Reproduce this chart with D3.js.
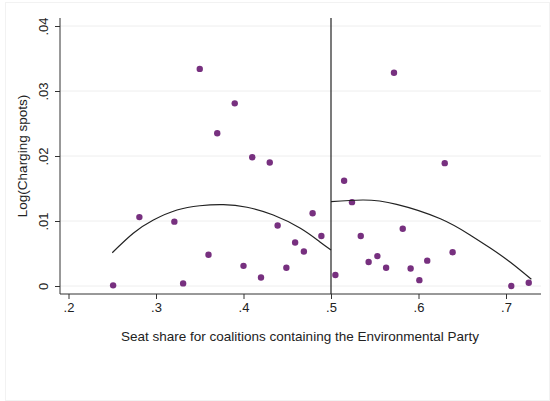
<!DOCTYPE html>
<html>
<head>
<meta charset="utf-8">
<script src="https://cdn.jsdelivr.net/npm/d3@7"></script>
<style>
	body { margin: 0; background: #fff; }
	text { font-family: "Liberation Sans", Arial, sans-serif; fill: #222; }
</style>
</head>
<body>
<script>
// scatter: seat share vs log(charging spots)
let seatShare = [0.251, 0.281, 0.321, 0.331, 0.350, 0.360, 0.370, 0.390, 0.400, 0.410, 0.420, 0.430,
	0.439, 0.449, 0.459, 0.469, 0.479, 0.489, 0.505, 0.515, 0.524, 0.534, 0.543, 0.553, 0.563, 0.572,
	0.582, 0.591, 0.601, 0.610, 0.630, 0.639, 0.706, 0.726]
let charging = [0.0001, 0.0106, 0.0099, 0.0004, 0.0334, 0.0048, 0.0235, 0.0281, 0.0031, 0.0198, 0.0013, 0.0190,
	0.0093, 0.0028, 0.0067, 0.0053, 0.0112, 0.0077, 0.0017, 0.0162, 0.0129, 0.0077, 0.0037, 0.0046, 0.0028, 0.0328,
	0.0088, 0.0027, 0.0009, 0.0039, 0.0189, 0.0052, 0.0000, 0.0005]

// fitted curves
let leftFitX = [0.250, 0.274, 0.297, 0.324, 0.350, 0.377, 0.404, 0.434, 0.465, 0.487, 0.500]
let leftFitY = [0.00512, 0.00811, 0.01015, 0.01169, 0.01235, 0.01251, 0.01211, 0.01092, 0.00888, 0.00682, 0.00554]
let rightFitX = [0.500, 0.537, 0.575, 0.625, 0.659, 0.682, 0.705, 0.729]
let rightFitY = [0.01297, 0.01323, 0.01257, 0.01035, 0.00785, 0.00585, 0.00365, 0.00103]

let xTicks = [0.2, 0.3, 0.4, 0.5, 0.6, 0.7]
let yTicks = [0, 0.01, 0.02, 0.03, 0.04]
let cutoff = 0.5

let width = 550, height = 401
let plot = { left: 60, right: 541, top: 18, bottom: 294 }

let svg = d3.select('body').append('svg')
	.attr('width', width)
	.attr('height', height)

// faint outer frame
svg.append('rect')
	.attr('x', 5.5).attr('y', 2.5)
	.attr('width', width - 6).attr('height', height - 3)
	.attr('fill', 'none')
	.attr('stroke', '#f2f2f2')

let x = d3.scaleLinear().domain([0.2, 0.7]).range([68.5, 506])
let y = d3.scaleLinear().domain([0, 0.04]).range([286, 26])

let fmt = d => d === 0 ? '0' : d3.format('.2f')(d).replace(/^0/, '').replace(/0$/, '')
let fmtX = d => d3.format('.1f')(d).replace(/^0/, '')

// gridlines
svg.append('g')
	.selectAll('line')
	.data(yTicks)
	.join('line')
	.attr('x1', plot.left).attr('x2', plot.right)
	.attr('y1', d => y(d)).attr('y2', d => y(d))
	.attr('stroke', '#eeeeee')
	.attr('stroke-width', 1)

// y axis
let yAxis = svg.append('g')
	.attr('transform', `translate(${plot.left},0)`)
	.call(d3.axisLeft(y).tickValues(yTicks).tickFormat(fmt).tickSize(5).tickSizeOuter(0))
yAxis.select('.domain').remove()
yAxis.append('line')
	.attr('y1', plot.top).attr('y2', plot.bottom)
	.attr('stroke', '#333')
yAxis.selectAll('.tick line').attr('stroke', '#333')
yAxis.selectAll('.tick text')
	.attr('font-size', 13)
	.attr('font-family', '"Liberation Sans", Arial, sans-serif')
	.attr('fill', '#222')
	.attr('x', 0).attr('dy', 0)
	.attr('text-anchor', 'middle')
	.attr('transform', 'translate(-12,0) rotate(-90)')

// x axis
let xAxis = svg.append('g')
	.attr('transform', `translate(0,${plot.bottom})`)
	.call(d3.axisBottom(x).tickValues(xTicks).tickFormat(fmtX).tickSize(5).tickSizeOuter(0))
xAxis.select('.domain').remove()
xAxis.append('line')
	.attr('x1', plot.left).attr('x2', plot.right)
	.attr('stroke', '#333')
xAxis.selectAll('.tick line').attr('stroke', '#333')
xAxis.selectAll('.tick text')
	.attr('font-size', 13)
	.attr('font-family', '"Liberation Sans", Arial, sans-serif')
	.attr('fill', '#222')
	.attr('y', 9)

// cutoff line
svg.append('line')
	.attr('x1', x(cutoff)).attr('x2', x(cutoff))
	.attr('y1', plot.top).attr('y2', plot.bottom)
	.attr('stroke', '#222')
	.attr('stroke-width', 1.2)

// points
svg.append('g')
	.selectAll('circle')
	.data(seatShare)
	.join('circle')
	.attr('cx', d => x(d))
	.attr('cy', (d, i) => y(charging[i]))
	.attr('r', 3.2)
	.attr('fill', '#77307f')

// fits
let line = d3.line().x(d => x(d[0])).y(d => y(d[1])).curve(d3.curveNatural)
svg.append('path')
	.datum(d3.zip(leftFitX, leftFitY))
	.attr('d', line)
	.attr('fill', 'none').attr('stroke', '#222').attr('stroke-width', 1.2)
svg.append('path')
	.datum(d3.zip(rightFitX, rightFitY))
	.attr('d', line)
	.attr('fill', 'none').attr('stroke', '#222').attr('stroke-width', 1.2)

// labels
svg.append('text')
	.attr('x', 300).attr('y', 341)
	.attr('text-anchor', 'middle')
	.attr('font-size', 13.5)
	.text('Seat share for coalitions containing the Environmental Party')
svg.append('text')
	.attr('transform', 'translate(27,156) rotate(-90)')
	.attr('text-anchor', 'middle')
	.attr('font-size', 13.5)
	.text('Log(Charging spots)')
</script>
</body>
</html>
